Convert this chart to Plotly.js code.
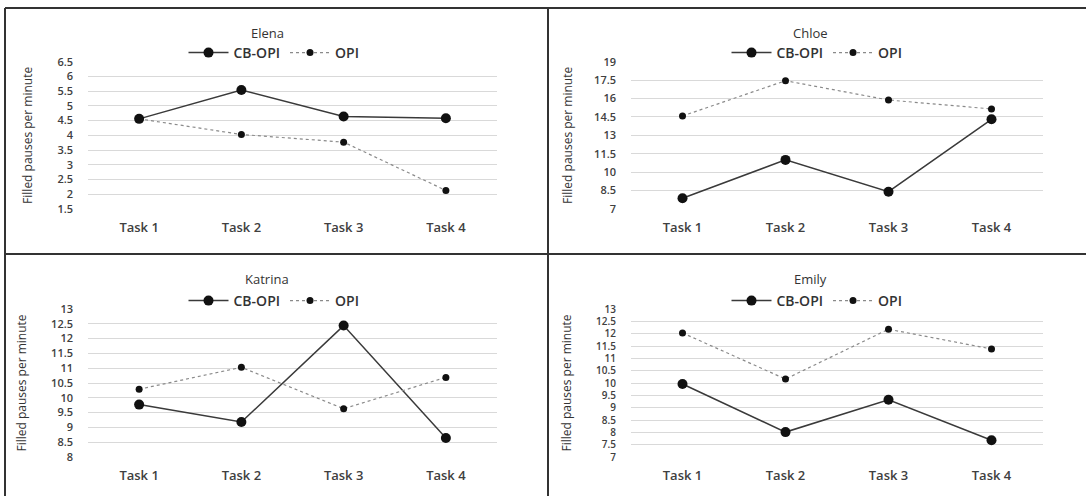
<!DOCTYPE html>
<html>
<head>
<meta charset="utf-8">
<script src="https://cdn.plot.ly/plotly-3.0.1.min.js"></script>
<style>html,body{margin:0;padding:0;background:#fff;}#chart{width:1086px;height:496px;}</style>
</head>
<body>
<div id="chart"></div>
<script>
const tasks = ['Task 1', 'Task 2', 'Task 3', 'Task 4'];
const seriesNames = ['CB-OPI', 'OPI'];
const panelNames = ['Elena', 'Chloe', 'Katrina', 'Emily'];

const elenaCB = [4.56, 5.54, 4.64, 4.58];
const elenaOPI = [4.56, 4.03, 3.77, 2.13];
const chloeCB = [7.88, 11.0, 8.41, 14.31];
const chloeOPI = [14.58, 17.45, 15.88, 15.15];
const katrinaCB = [9.77, 9.18, 12.44, 8.64];
const katrinaOPI = [10.29, 11.03, 9.63, 10.69];
const emilyCB = [9.96, 8.01, 9.32, 7.68];
const emilyOPI = [12.03, 10.16, 12.18, 11.38];

const yRanges = [[1.5, 6.5], [7, 19], [8, 13], [7, 13]];
const yDticks = [0.5, 1.5, 0.5, 0.5];

const W = 1086, H = 496;
const px = v => v / W;
const py = v => 1 - v / H;

const dataSets = [[elenaCB, elenaOPI], [chloeCB, chloeOPI], [katrinaCB, katrinaOPI], [emilyCB, emilyOPI]];
const xDomains = [[px(88), px(497)], [px(631), px(1043)], [px(88), px(497)], [px(631), px(1043)]];
const yDomains = [[py(209), py(61.7)], [py(209), py(61.7)], [py(457), py(309)], [py(457), py(309)]];
const legendPos = [[px(274), py(53)], [px(817), py(53)], [px(274), py(301)], [px(817), py(301)]];
const titlePos = [[px(267), py(33)], [px(810), py(33)], [px(267), py(279)], [px(810), py(279)]];
const yTickSizes = [11, 11, 11, 10];
const yTitleStandoff = [22, 18, 21, 21];

const traces = [];
const layout = {
  width: W, height: H,
  margin: {l: 0, r: 0, t: 0, b: 0},
  paper_bgcolor: '#ffffff', plot_bgcolor: '#ffffff',
  font: {family: 'Open Sans, sans-serif', color: '#404040', size: 12},
  showlegend: true,
  annotations: [],
  shapes: []
};

for (let i = 0; i < 4; i++) {
  const sfx = i === 0 ? '' : String(i + 1);
  const xa = 'x' + sfx, ya = 'y' + sfx;
  const lg = 'legend' + sfx;
  const [cb, opi] = dataSets[i];
  traces.push({
    x: tasks, y: cb, name: seriesNames[0], type: 'scatter', mode: 'lines+markers',
    xaxis: xa, yaxis: ya, legend: lg,
    line: {color: '#3a3a3a', width: 1.5},
    marker: {color: '#111111', size: 10}
  });
  traces.push({
    x: tasks, y: opi, name: seriesNames[1], type: 'scatter', mode: 'lines+markers',
    xaxis: xa, yaxis: ya, legend: lg,
    line: {color: '#8a8a8a', width: 1.2, dash: 'dot'},
    marker: {color: '#111111', size: 7}
  });
  layout['xaxis' + sfx] = {
    domain: xDomains[i], anchor: ya, type: 'category', range: [-0.5, 3.5],
    showgrid: false, zeroline: false, showline: false, ticks: '',
    tickfont: {family: 'Open Sans, sans-serif', size: 13, color: '#404040', weight: 600},
    ticklabelstandoff: 9, fixedrange: true
  };
  layout['yaxis' + sfx] = {
    domain: yDomains[i], anchor: xa, range: yRanges[i], tick0: yRanges[i][0], dtick: yDticks[i],
    showgrid: true, gridcolor: '#d9d9d9', gridwidth: 1, zeroline: false, showline: false, ticks: '',
    tickfont: {family: 'Open Sans, sans-serif', size: yTickSizes[i], color: '#404040', weight: 600},
    ticklabelstandoff: 14, fixedrange: true,
    title: {text: 'Filled pauses per minute', font: {family: 'Open Sans, sans-serif', size: 12, color: '#333333'}, standoff: yTitleStandoff[i]}
  };
  layout[lg] = {
    orientation: 'h', x: legendPos[i][0], y: legendPos[i][1], xanchor: 'center', yanchor: 'middle',
    font: {family: 'Open Sans, sans-serif', size: 14, color: '#333333', weight: 600},
    bgcolor: 'rgba(0,0,0,0)', itemwidth: 40, tracegroupgap: 0
  };
  layout.annotations.push({
    text: panelNames[i], xref: 'paper', yref: 'paper', x: titlePos[i][0], y: titlePos[i][1],
    xanchor: 'center', yanchor: 'middle', showarrow: false,
    font: {family: 'Open Sans, sans-serif', size: 13, color: '#333333'}
  });
}

// frame lines of the figure
const frame = {color: '#333333', width: 2};
layout.shapes.push({type: 'line', xref: 'paper', yref: 'paper', x0: px(5), x1: px(5), y0: 0, y1: py(8), line: frame});
layout.shapes.push({type: 'line', xref: 'paper', yref: 'paper', x0: px(5), x1: 1, y0: py(8), y1: py(8), line: frame});
layout.shapes.push({type: 'line', xref: 'paper', yref: 'paper', x0: px(548), x1: px(548), y0: 0, y1: py(8), line: frame});
layout.shapes.push({type: 'line', xref: 'paper', yref: 'paper', x0: px(5), x1: 1, y0: py(254), y1: py(254), line: frame});

Plotly.newPlot('chart', traces, layout, {displayModeBar: false, staticPlot: true});
</script>
</body>
</html>
